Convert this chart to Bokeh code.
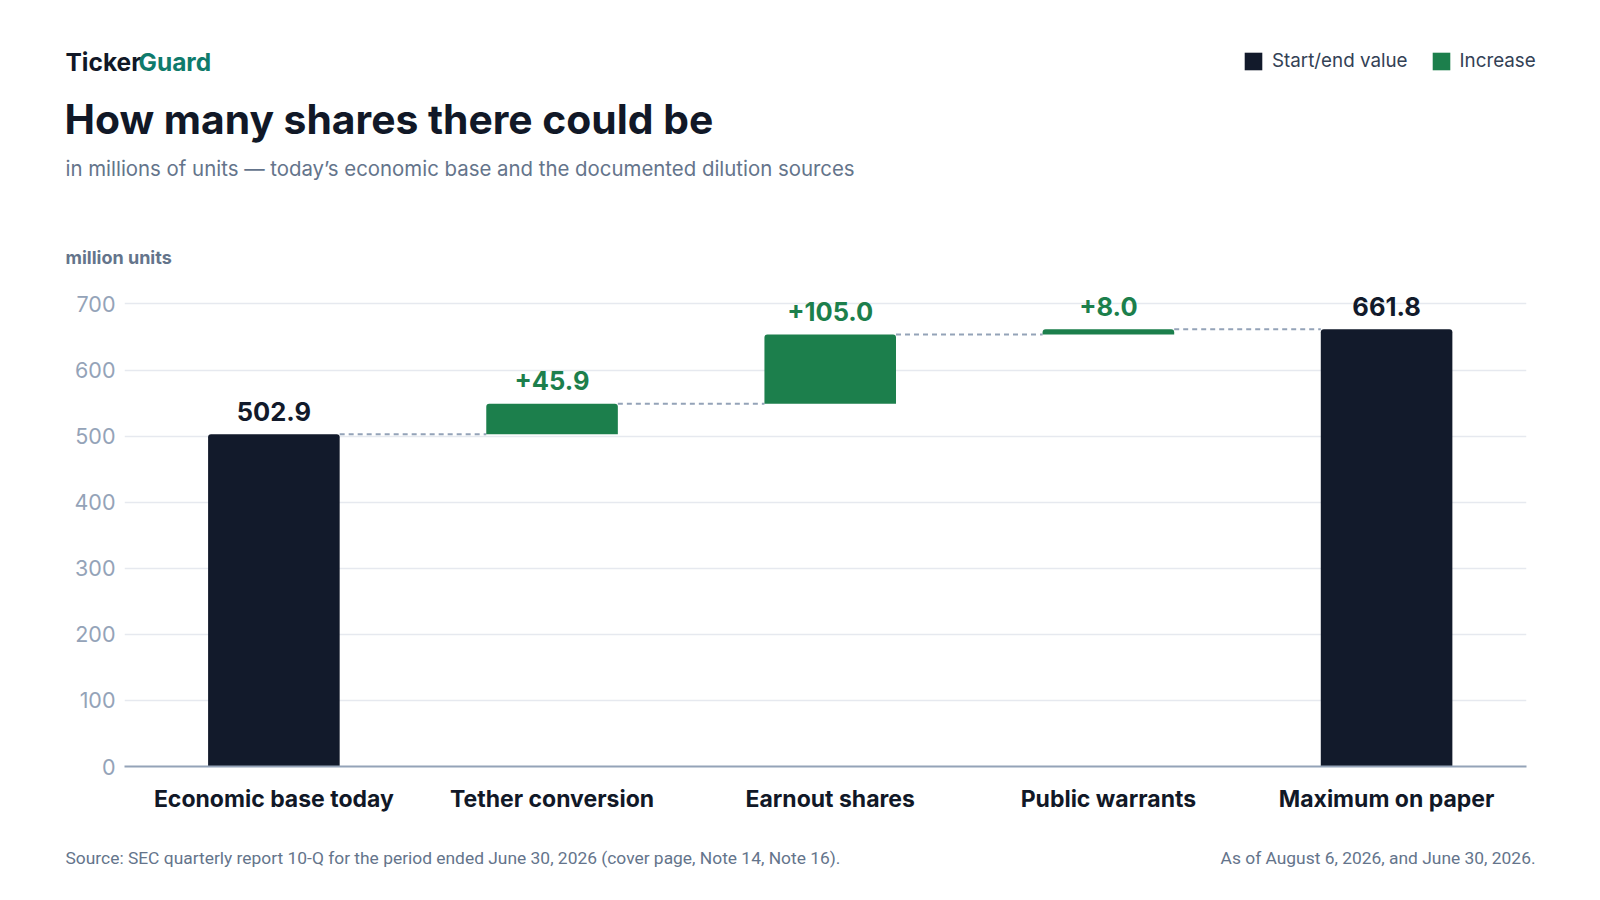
from bokeh.plotting import figure
from bokeh.layouts import column
from bokeh.models import Range1d, FixedTicker, Legend, LegendItem, ColumnDataSource
from bokeh.core.properties import value
from bokeh.embed import file_html
from bokeh.resources import INLINE

# ---- data ----
categories = ["Economic base today", "Tether conversion", "Earnout shares",
              "Public warrants", "Maximum on paper"]
steps = [502.9, 45.9, 105.0, 8.0, 661.8]
kinds = ["total", "increase", "increase", "increase", "total"]
y_ticks = [0, 100, 200, 300, 400, 500, 600, 700]
legend_labels = ["Start/end value", "Increase"]
brand = ["Ticker", "Guard"]
title = "How many shares there could be"
subtitle = "in millions of units \u2014 today\u2019s economic base and the documented dilution sources"
y_unit = "million units"
source_note = "Source: SEC quarterly report 10-Q for the period ended June 30, 2026 (cover page, Note 14, Note 16)."
date_note = "As of August 6, 2026, and June 30, 2026."

# ---- styles ----
DARK = "#121a2b"
GREEN = "#1c7f4c"
TEAL = "#0f7b6c"
INK = "#111827"
MUTED = "#64748b"
TICK = "#94a3b8"
FONT = "Inter"
W = 1584
H_HEAD, H_CHART, H_FOOT = 270, 545, 69

# ---- waterfall geometry derived from the data ----
xs, bottoms, tops, colors, texts = [], [], [], [], []
running = 0.0
for i, (s, k) in enumerate(zip(steps, kinds)):
    xs.append(i)
    if k == "total":
        bottoms.append(0.0)
        tops.append(s)
        running = s
        colors.append(DARK)
        texts.append(f"{s:.1f}")
    else:
        bottoms.append(running)
        tops.append(running + s)
        running += s
        colors.append(GREEN)
        texts.append(f"+{s:.1f}")

BAR_W = 0.473
src = ColumnDataSource(dict(x=xs, bottom=bottoms, top=tops, color=colors, label=texts))
conn = ColumnDataSource(dict(
    x0=[x + BAR_W / 2 for x in xs[:-1]],
    x1=[x + 1 - BAR_W / 2 for x in xs[:-1]],
    y=tops[:-1],
))


def blank(h):
    f = figure(width=W, height=h, output_backend="svg", toolbar_location=None,
               x_range=Range1d(0, W), y_range=Range1d(h, 0),
               x_axis_type=None, y_axis_type=None, min_border=0)
    f.frame_align = False
    f.outline_line_color = None
    f.background_fill_color = "white"
    f.border_fill_color = "white"
    f.xgrid.visible = False
    f.ygrid.visible = False
    return f


def txt(f, s, x, y, size, color, bold=False, font=FONT, align="left"):
    f.text(x=[x], y=[y], text=[s], text_font=value(font), text_font_size=size,
           text_color=color, text_font_style="bold" if bold else "normal",
           text_align=align, text_baseline="alphabetic")


# ---- header ----
head = blank(H_HEAD)
txt(head, brand[0], 65, 61, "24.5px", INK, bold=True)
txt(head, brand[1], 138, 61, "24.5px", TEAL, bold=True)
txt(head, title, 64, 118, "40.8px", INK, bold=True)
txt(head, subtitle, 65, 168, "20.4px", MUTED)
txt(head, y_unit, 65, 257, "18px", MUTED, bold=True)

nan = float("nan")
sw_dark = head.vbar(x=[nan], top=[nan], width=1, fill_color=DARK, line_color=None,
                    border_radius=3)
sw_green = head.vbar(x=[nan], top=[nan], width=1, fill_color=GREEN, line_color=None,
                     border_radius=3)
legend = Legend(items=[LegendItem(label=legend_labels[0], renderers=[sw_dark]),
                       LegendItem(label=legend_labels[1], renderers=[sw_green])],
                orientation="horizontal", location=(1242, 198), padding=0, margin=0,
                spacing=22, label_standoff=8, glyph_width=22, glyph_height=22,
                background_fill_alpha=0, border_line_color=None,
                label_text_font=FONT, label_text_font_size="18.8px",
                label_text_color="#334155")
head.add_layout(legend)

# ---- chart ----
FL, FR, FT, FB = 124, 58, 7, 48
p = figure(width=W, height=H_CHART, output_backend="svg", toolbar_location=None,
           x_range=Range1d(-0.537, 4.503), y_range=Range1d(0, 740),
           min_border_left=FL, min_border_right=FR, min_border_top=FT, min_border_bottom=FB)
p.frame_align = False
p.background_fill_color = "white"
p.border_fill_color = "white"
p.outline_line_color = None

p.segment(x0="x0", y0="y", x1="x1", y1="y", source=conn,
          line_color=TICK, line_width=2, line_dash="5 4")
bars = p.vbar(x="x", width=BAR_W, bottom="bottom", top="top", source=src,
              fill_color="color", line_color=None, border_radius=(3, 3, 0, 0))
p.text(x="x", y="top", text="label", source=src, text_font=value(FONT),
       text_font_style="bold", text_font_size="25.5px", text_color="color",
       text_align="center", text_baseline="alphabetic", y_offset=-23)

p.xaxis.ticker = FixedTicker(ticks=xs)
p.xaxis.major_label_overrides = {i: c for i, c in enumerate(categories)}
p.xaxis.major_label_text_font = FONT
p.xaxis.major_label_text_font_style = "bold"
p.xaxis.major_label_text_font_size = "23px"
p.xaxis.major_label_text_color = INK
p.xaxis.major_label_standoff = 18
p.xaxis.axis_line_color = TICK
p.xaxis.axis_line_width = 2
p.xaxis.major_tick_line_color = None
p.xaxis.major_tick_out = 0
p.xaxis.major_tick_in = 0
p.xaxis.minor_tick_line_color = None

p.yaxis.ticker = FixedTicker(ticks=y_ticks)
p.yaxis.major_label_text_font = FONT
p.yaxis.major_label_text_font_size = "21.5px"
p.yaxis.major_label_text_color = TICK
p.yaxis.major_label_standoff = 9
p.yaxis.axis_line_color = None
p.yaxis.major_tick_line_color = None
p.yaxis.major_tick_out = 0
p.yaxis.major_tick_in = 0
p.yaxis.minor_tick_line_color = None

p.xgrid.grid_line_color = None
p.ygrid.ticker = FixedTicker(ticks=y_ticks)
p.ygrid.grid_line_color = "#e6e9ef"
p.ygrid.grid_line_width = 1.5

# ---- footer ----
foot = blank(H_FOOT)
txt(foot, source_note, 65, 42, "17.4px", MUTED, font="Roboto")
txt(foot, date_note, 1535, 42, "17.4px", MUTED, font="Roboto", align="right")

layout = column(head, p, foot, spacing=0)
open("out.html", "w").write(file_html(layout, INLINE))
